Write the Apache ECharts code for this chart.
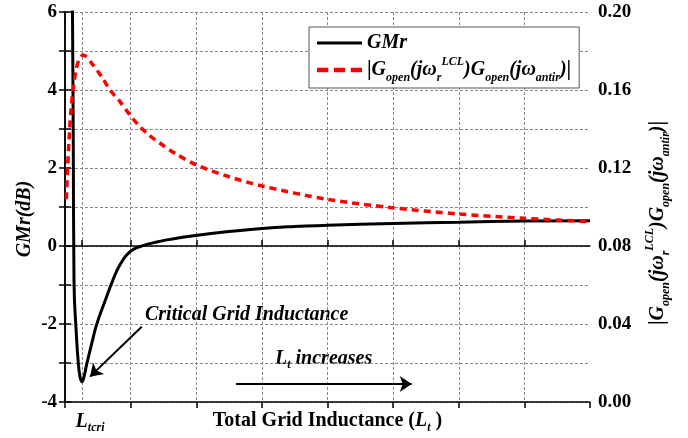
<!DOCTYPE html>
<html><head><meta charset="utf-8">
<script src="https://cdn.jsdelivr.net/npm/echarts@6/dist/echarts.min.js"></script>
<style>html,body{margin:0;padding:0;background:#fff}#c{width:688px;height:438px}</style>
</head><body><div id="c"></div>
<script>
// ---- data ----
const ltcri = 0.26;                        // critical grid inductance position on x
const xGridTicks = [1, 2, 3, 4, 5, 6, 7];  // unlabeled x ticks
const gmrX = [0.100, 0.114, 0.126, 0.137, 0.178, 0.203, 0.229, 0.259, 0.29, 0.331, 0.416, 0.483, 0.61, 0.73, 0.80, 0.87, 0.94, 1.02, 1.12, 1.245, 1.42, 1.6, 1.955, 2.5, 3.0, 3.5, 4.0, 5.0, 6.0, 7.0, 8.0];
const gmrY = [9.0, 6.0, 2.7, -0.87, -2.41, -3.0, -3.35, -3.48, -3.35, -3.03, -2.44, -2.01, -1.41, -0.87, -0.60, -0.39, -0.23, -0.11, -0.03, 0.04, 0.11, 0.17, 0.26, 0.37, 0.45, 0.50, 0.53, 0.58, 0.61, 0.64, 0.65];
const magX = [0.02, 0.038, 0.061, 0.091, 0.126, 0.168, 0.213, 0.279, 0.407, 0.559, 0.686, 0.838, 0.99, 1.117, 1.28, 1.448, 1.676, 2.007, 2.5, 3.0, 4.0, 4.95, 6.0, 7.0, 8.0];
const magY = [0.104, 0.119, 0.134, 0.1497, 0.161, 0.1703, 0.1754, 0.178, 0.1737, 0.1668, 0.160, 0.154, 0.1472, 0.1421, 0.1369, 0.1327, 0.1275, 0.1215, 0.1155, 0.1108, 0.1039, 0.0998, 0.0964, 0.0942, 0.0925];
const arrowCritical = [[1.169, -2.07], [0.381, -3.35]];
const arrowIncrease = [[2.606, -3.54], [5.283, -3.54]];

const FF = 'Liberation Serif';
const richMag = {
  b: {fontFamily: FF, fontSize: 20, fontWeight: 'bold', fontStyle: 'italic', color: '#000', lineHeight: 28},
  u: {fontFamily: FF, fontSize: 21, fontWeight: 'bold', color: '#000', lineHeight: 28},
  s: {fontFamily: FF, fontSize: 12, fontWeight: 'bold', fontStyle: 'italic', color: '#000', lineHeight: 13, verticalAlign: 'bottom'},
  p: {fontFamily: FF, fontSize: 12, fontWeight: 'bold', fontStyle: 'italic', color: '#000', lineHeight: 13, verticalAlign: 'top'}
};
const magText = '{u||}{b|G}{s|open}{b|(jω}{s|r}{p|LCL}{b|)G}{s|open}{b|(jω}{s|antir}{b|)}{u||}';

const chart = echarts.init(document.getElementById('c'));
const gridLine = {show: true, lineStyle: {color: '#888', type: [3, 2], width: 1}};
const axisLine = {show: true, lineStyle: {color: '#000', width: 1.5}};
const labelFont = {fontFamily: FF, fontSize: 19, fontWeight: 'bold', color: '#000'};

chart.setOption({
  animation: false,
  backgroundColor: '#fff',
  grid: {left: 65, right: 98, top: 12, bottom: 36, show: false, outerBoundsMode: 'none', containLabel: false},
  legend: {
    orient: 'vertical', left: 309, top: 27,
    padding: [6, 8, 4, 8], itemGap: 3, itemWidth: 45, itemHeight: 14,
    borderColor: '#555', borderWidth: 1, backgroundColor: '#fff',
    data: [
      {name: 'GMr', icon: 'path://M0,0H45V3H0Z'},
      {name: 'mag', icon: 'path://M0,0H10V4H0Z M15,0H25V4H15Z M30,0H40V4H30Z'}
    ],
    formatter: n => n === 'GMr' ? '{b|GMr}' : magText,
    textStyle: {rich: richMag}
  },
  xAxis: [{
    type: 'value', min: 0, max: 8, interval: 1, position: 'bottom',
    axisLine: axisLine,
    axisTick: {show: true, inside: true, length: 6, customValues: [ltcri].concat(xGridTicks), lineStyle: {color: '#000', width: 1.5}},
    axisLabel: {show: true, customValues: [ltcri], margin: 8, padding: [0, 0, 0, 16], formatter: () => '{L|L}{t|tcri}',
      rich: {L: {fontFamily: FF, fontSize: 20, fontWeight: 'bold', fontStyle: 'italic', color: '#000', lineHeight: 24},
             t: {fontFamily: FF, fontSize: 12, fontWeight: 'bold', fontStyle: 'italic', color: '#000', lineHeight: 12, verticalAlign: 'bottom'}}},
    splitLine: gridLine,
    name: '{a|Total Grid Inductance (}{L|L}{t|t}{a| )}',
    nameLocation: 'middle', nameGap: 6, nameMoveOverlap: false,
    nameTextStyle: {rich: {
      a: {fontFamily: FF, fontSize: 20, fontWeight: 'bold', color: '#000', lineHeight: 26},
      L: {fontFamily: FF, fontSize: 20, fontWeight: 'bold', fontStyle: 'italic', color: '#000', lineHeight: 26},
      t: {fontFamily: FF, fontSize: 12, fontWeight: 'bold', fontStyle: 'italic', color: '#000', lineHeight: 12, verticalAlign: 'bottom'}}}
  }, {
    type: 'value', min: 0, max: 8, interval: 1, position: 'top',
    axisLine: axisLine,
    axisTick: {show: true, inside: true, length: 6, lineStyle: {color: '#000', width: 1.5}},
    axisLabel: {show: false}, splitLine: {show: false}
  }],
  yAxis: [{
    type: 'value', min: -4, max: 6, interval: 1, position: 'left',
    axisLine: axisLine,
    axisTick: {show: true, inside: true, length: 6, lineStyle: {color: '#000', width: 1.5}},
    axisLabel: Object.assign({margin: 8, formatter: v => (Math.round(v) % 2 === 0 ? String(v) : '')}, labelFont),
    splitLine: gridLine,
    name: 'GMr(dB)', nameLocation: 'middle', nameRotate: 90, nameGap: 30, nameMoveOverlap: false,
    nameTextStyle: {fontFamily: FF, fontSize: 20, fontWeight: 'bold', fontStyle: 'italic', color: '#000', padding: [0, 24, 0, 0]}
  }, {
    type: 'value', min: 0, max: 0.2, interval: 0.02, position: 'right',
    axisLine: axisLine,
    axisTick: {show: true, inside: true, length: 6, lineStyle: {color: '#000', width: 1.5}},
    axisLabel: Object.assign({margin: 8, formatter: v => (Math.round(v * 100) % 4 === 0 ? v.toFixed(2) : '')}, labelFont),
    splitLine: {show: false},
    name: magText, nameLocation: 'middle', nameRotate: 90, nameGap: 54, nameMoveOverlap: false,
    nameTextStyle: {rich: richMag, padding: [0, 32, 0, 0]}
  }],
  graphic: [
    {type: 'text', left: 145, top: 305, style: {text: 'Critical Grid Inductance', font: 'italic bold 20px "Liberation Serif"', fill: '#000'}},
    {type: 'text', left: 275, top: 349, style: {text: '{L|L}{t|t}{a| increases}', rich: {
      L: {fontFamily: FF, fontSize: 20, fontWeight: 'bold', fontStyle: 'italic', fill: '#000', lineHeight: 24},
      a: {fontFamily: FF, fontSize: 20, fontWeight: 'bold', fontStyle: 'italic', fill: '#000', lineHeight: 24},
      t: {fontFamily: FF, fontSize: 12, fontWeight: 'bold', fontStyle: 'italic', fill: '#000', lineHeight: 12, verticalAlign: 'bottom'}}}}
  ],
  series: [{
    name: 'GMr', type: 'line', xAxisIndex: 0, yAxisIndex: 0,
    data: gmrX.map((x, i) => [x, gmrY[i]]),
    symbol: 'none', smooth: 0.5, clip: true,
    lineStyle: {color: '#000', width: 3}, itemStyle: {color: '#000'},
    markLine: {
      silent: true, symbol: ['none', 'arrow'], symbolSize: 12,
      lineStyle: {color: '#000', width: 2, type: 'solid'},
      label: {show: false},
      data: [
        [{coord: arrowCritical[0]}, {coord: arrowCritical[1]}],
        [{coord: arrowIncrease[0]}, {coord: arrowIncrease[1]}]
      ]
    }
  }, {
    name: 'mag', type: 'line', xAxisIndex: 0, yAxisIndex: 1,
    data: magX.map((x, i) => [x, magY[i]]),
    symbol: 'none', smooth: 0.3, clip: true,
    lineStyle: {color: '#ff0000', width: 3.5, type: [7, 5]}, itemStyle: {color: '#ff0000'}
  }]
});
</script>
</body></html>
